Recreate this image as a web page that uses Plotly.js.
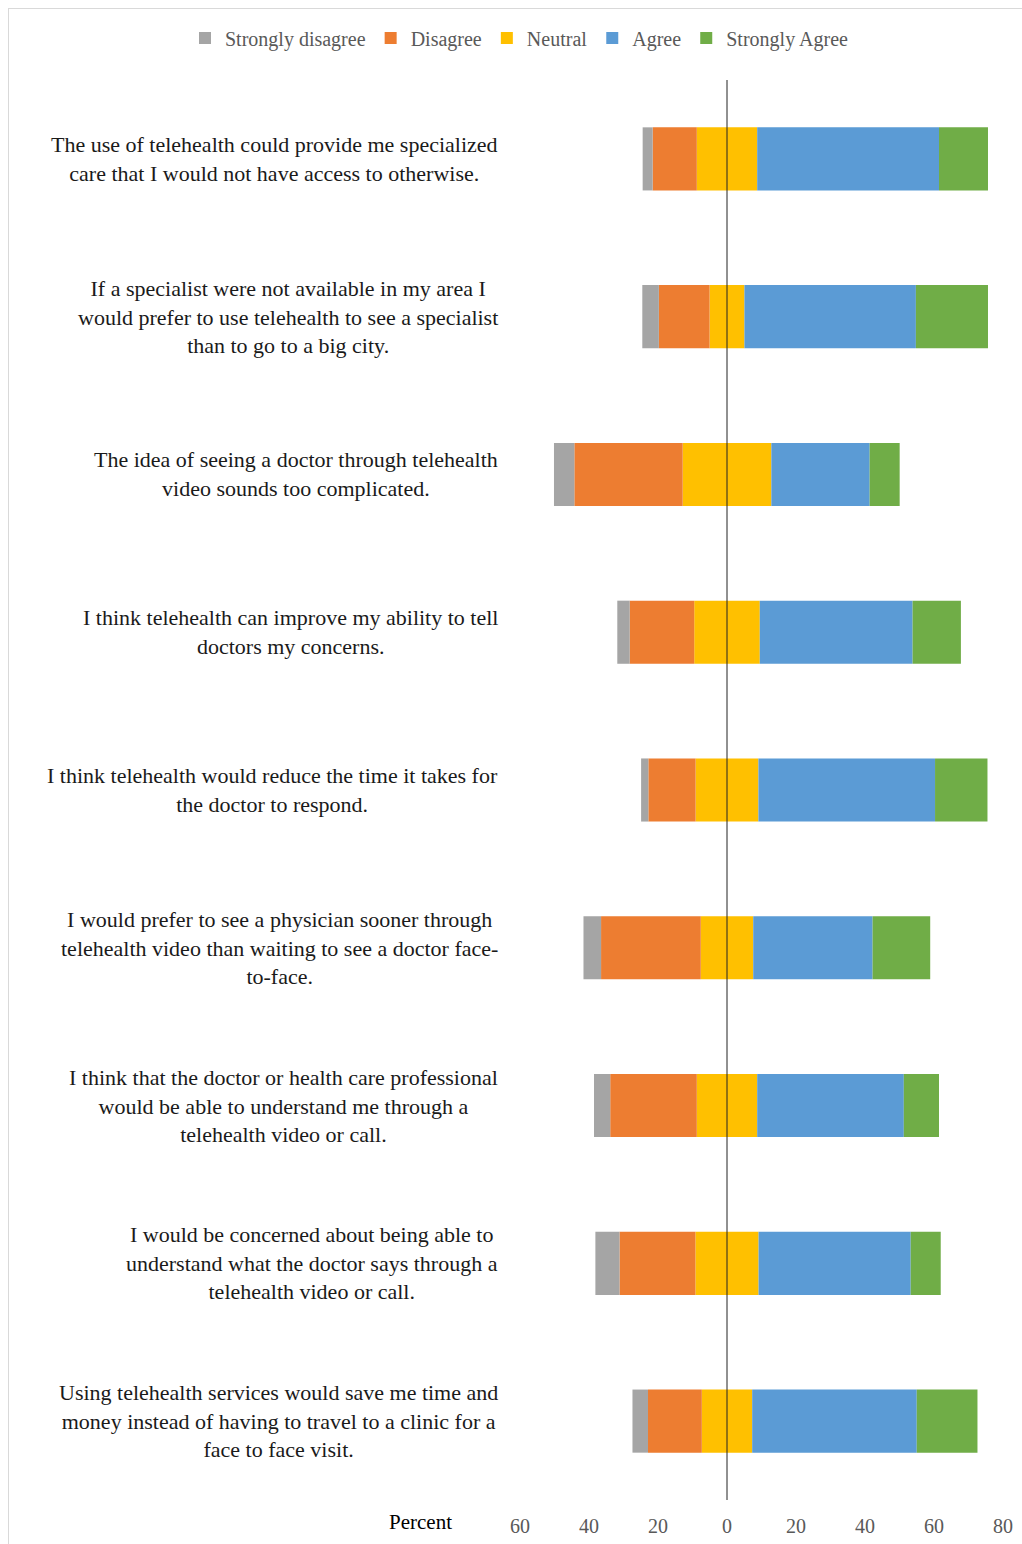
<!DOCTYPE html>
<html>
<head>
<meta charset="utf-8">
<script src="https://cdn.plot.ly/plotly-3.0.1.min.js"></script>
<style>
html,body{margin:0;padding:0;background:#fff;}
#wrap{position:relative;width:1022px;height:1544px;overflow:hidden;}
#chart{position:absolute;left:0;top:0;width:1022px;height:1544px;}
#frame{position:absolute;left:8px;top:8px;width:1040px;height:1560px;border:1px solid #d9d9d9;pointer-events:none;}
</style>
</head>
<body>
<div id="wrap"><div id="chart"></div><div id="frame"></div></div>
<script>
// Statements (top to bottom)
const statements = [
  "The use of telehealth could provide me specialized<br>care that I would not have access to otherwise.",
  "If a specialist were not available in my area I<br>would prefer to use telehealth to see a specialist<br>than to go to a big city.",
  "The idea of seeing a doctor through telehealth<br>video sounds too complicated.",
  "I think telehealth can improve my ability to tell<br>doctors my concerns.",
  "I think telehealth would reduce the time it takes for<br>the doctor to respond.",
  "I would prefer to see a physician sooner through<br>telehealth video than waiting to see a doctor face-<br>to-face.",
  "I think that the doctor or health care professional<br>would be able to understand me through a<br>telehealth video or call.",
  "I would be concerned about being able to<br>understand what the doctor says through a<br>telehealth video or call.",
  "Using telehealth services would save me time and<br>money instead of having to travel to a clinic for a<br>face to face visit."
];
// Percent of respondents per response
const stronglyDisagree = [2.9, 4.8, 5.9, 3.6, 2.1, 5.1, 4.7, 7.0, 4.5];
const disagree         = [12.8, 14.7, 31.4, 18.7, 13.7, 28.9, 25.1, 22.0, 15.6];
const neutral          = [17.5, 10.1, 25.7, 19.0, 18.2, 15.2, 17.5, 18.3, 14.6];
const agree            = [52.7, 49.7, 28.5, 44.3, 51.2, 34.6, 42.5, 44.1, 47.7];
const stronglyAgree    = [14.2, 20.9, 8.7, 14.0, 15.2, 16.7, 10.2, 8.7, 17.6];

const tickVals = [-60, -40, -20, 0, 20, 40, 60, 80];
const tickText = ["60", "40", "20", "0", "20", "40", "60", "80"];

const colors = {sd:"#A5A5A5", d:"#ED7D31", n:"#FFC000", a:"#5B9BD5", sa:"#70AD47"};
const cats = statements.map((s,i)=>"q"+i);
const serif = "Liberation Serif, Times New Roman, serif";

function bar(name, xs, color, opts){
  return Object.assign({
    type:"bar", orientation:"h", name:name, x:xs, y:cats,
    marker:{color:color, line:{width:0}}, width:0.4, hoverinfo:"x+name"
  }, opts||{});
}
const neg = a => a.map(v=>-v);
const half = a => a.map(v=>v/2);

const traces = [
  bar("Neutral", neg(half(neutral)), colors.n, {showlegend:false, legendgroup:"n"}),
  bar("Neutral", half(neutral), colors.n, {legendgroup:"n", legendrank:3}),
  bar("Disagree", neg(disagree), colors.d, {legendrank:2}),
  bar("Strongly disagree", neg(stronglyDisagree), colors.sd, {legendrank:1}),
  bar("Agree", agree, colors.a, {legendrank:4}),
  bar("Strongly Agree", stronglyAgree, colors.sa, {legendrank:5})
];

const L = 520, R = 19, T = 80, B = 44, W = 1022, H = 1544;
const pw = W - L - R, ph = H - T - B;

const annotations = statements.map((s,i)=>({
  xref:"paper", yref:"y", x:0, y:cats[i], xanchor:"right", yanchor:"middle",
  xshift:-20, text:s, showarrow:false, align:"center",
  font:{family:serif, size:22, color:"#1a1a1a"}
}));
annotations.push({
  xref:"paper", yref:"paper", x:(420 - L)/pw, y:-(1522 - (H - B))/ph,
  xanchor:"center", yanchor:"middle", text:"Percent", showarrow:false,
  font:{family:serif, size:21, color:"#000"}
});

const layout = {
  width:W, height:H,
  margin:{l:L, r:R, t:T, b:B},
  paper_bgcolor:"#fff", plot_bgcolor:"#fff",
  barmode:"relative",
  showlegend:true,
  legend:{orientation:"h", xref:"paper", yref:"paper", x:(185 - L)/pw, y:1 + (T - 38)/ph,
          xanchor:"left", yanchor:"middle", itemwidth:30, traceorder:"normal",
          font:{family:serif, size:20, color:"#595959"}, bgcolor:"rgba(0,0,0,0)"},
  xaxis:{range:[-60,80], tickvals:tickVals, ticktext:tickText, showgrid:false,
         zeroline:false, showline:false, ticks:"", ticklabelstandoff:12,
         tickfont:{family:serif, size:20, color:"#595959"}, fixedrange:true},
  yaxis:{categoryorder:"array", categoryarray:cats, autorange:"reversed",
         showticklabels:false, showgrid:false, zeroline:false, showline:false, ticks:""},
  shapes:[{type:"line", xref:"x", yref:"paper", x0:0, x1:0, y0:0, y1:1,
           line:{color:"#222", width:1}, layer:"above"}],
  annotations:annotations
};

Plotly.newPlot("chart", traces, layout, {displayModeBar:false, staticPlot:true});
</script>
</body>
</html>
